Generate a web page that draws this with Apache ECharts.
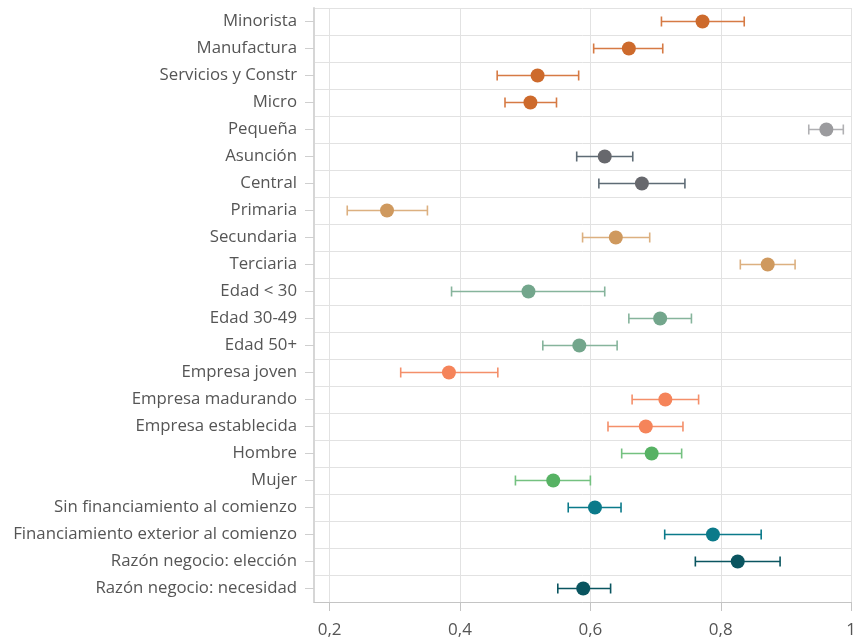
<!DOCTYPE html>
<html>
<head>
<meta charset="utf-8">
<script src="https://cdn.jsdelivr.net/npm/echarts@6/dist/echarts.min.js"></script>
<style>html,body{margin:0;padding:0;background:#fff}#c{width:859px;height:640px}</style>
</head>
<body>
<div id="c"></div>
<script>
var categories = ["Minorista","Manufactura","Servicios y Constr","Micro","Pequeña","Asunción","Central","Primaria","Secundaria","Terciaria","Edad < 30","Edad 30-49","Edad 50+","Empresa joven","Empresa madurando","Empresa establecida","Hombre","Mujer","Sin financiamiento al comienzo","Financiamiento exterior al comienzo","Razón negocio: elección","Razón negocio: necesidad"];
var values = [0.772,0.659,0.519,0.508,0.962,0.622,0.679,0.288,0.639,0.872,0.505,0.707,0.583,0.383,0.715,0.685,0.694,0.543,0.607,0.788,0.826,0.589];
var lows   = [0.709,0.605,0.457,0.469,0.935,0.579,0.613,0.227,0.588,0.830,0.387,0.659,0.527,0.309,0.664,0.627,0.648,0.485,0.566,0.714,0.761,0.550];
var highs  = [0.836,0.711,0.582,0.548,0.988,0.665,0.745,0.350,0.691,0.914,0.622,0.755,0.641,0.458,0.766,0.742,0.740,0.600,0.647,0.862,0.891,0.631];
var groups = [0,0,0,0,1,2,2,3,3,3,4,4,4,5,5,5,6,6,7,7,8,8];
var xTicks = [0.2,0.4,0.6,0.8,1];

var dotColors = ["#cd6a2c","#9b9b9e","#67686d","#cf995e","#73a68c","#f5845a","#57b264","#0b7a8a","#0a5560"];
var barColors = ["#d67a44","#b0b0b3","#5e6b75","#dcb080","#86b49c","#f48f6a","#74c180","#0b7a8a","#0a5560"];

var chart = echarts.init(document.getElementById('c'), null, {renderer:'canvas'});
var font = "'Open Sans', sans-serif";

var scatterData = values.map(function(v,i){
  return {value:[v,i], itemStyle:{color:dotColors[groups[i]], opacity:1}};
});
var errData = values.map(function(v,i){ return [lows[i], highs[i], i, groups[i]]; });

chart.setOption({
  animation:false,
  grid:{left:314, right:6, top:8, bottom:38, containLabel:false},
  xAxis:{
    type:'value', min:0.176, max:1,
    axisLine:{show:true, lineStyle:{color:'#c4c4c4', width:1}},
    axisTick:{show:true, length:9, customValues:xTicks, lineStyle:{color:'#c4c4c4'}},
    axisLabel:{customValues:xTicks, margin:20, fontSize:17, color:'#555', fontFamily:font,
      formatter:function(v){ return String(Math.round(v*10)/10).replace('.',','); }},
    splitLine:{show:true, lineStyle:{color:'#e2e2e2', width:1}}
  },
  yAxis:{
    type:'category', data:categories, inverse:true,
    axisLine:{show:true, lineStyle:{color:'#d6d6d6', width:2}},
    axisTick:{show:true, alignWithLabel:true, length:9, lineStyle:{color:'#cfcfcf'}},
    axisLabel:{fontSize:16.8, color:'#555', margin:17, fontFamily:font},
    splitLine:{show:true, lineStyle:{color:'#e2e2e2', width:1}}
  },
  series:[
    {
      type:'custom',
      data:errData,
      encode:{x:[0,1], y:2},
      renderItem:function(params, api){
        var lo = api.coord([api.value(0), api.value(2)]);
        var hi = api.coord([api.value(1), api.value(2)]);
        var c = barColors[api.value(3)];
        var h = 5;
        var st = {stroke:c, lineWidth:1.6};
        return {type:'group', children:[
          {type:'line', shape:{x1:lo[0], y1:lo[1], x2:hi[0], y2:hi[1]}, style:st},
          {type:'line', shape:{x1:lo[0], y1:lo[1]-h, x2:lo[0], y2:lo[1]+h}, style:st},
          {type:'line', shape:{x1:hi[0], y1:hi[1]-h, x2:hi[0], y2:hi[1]+h}, style:st}
        ]};
      },
      z:2
    },
    {
      type:'scatter',
      data:scatterData,
      symbolSize:14,
      z:3
    }
  ]
});
</script>
</body>
</html>
